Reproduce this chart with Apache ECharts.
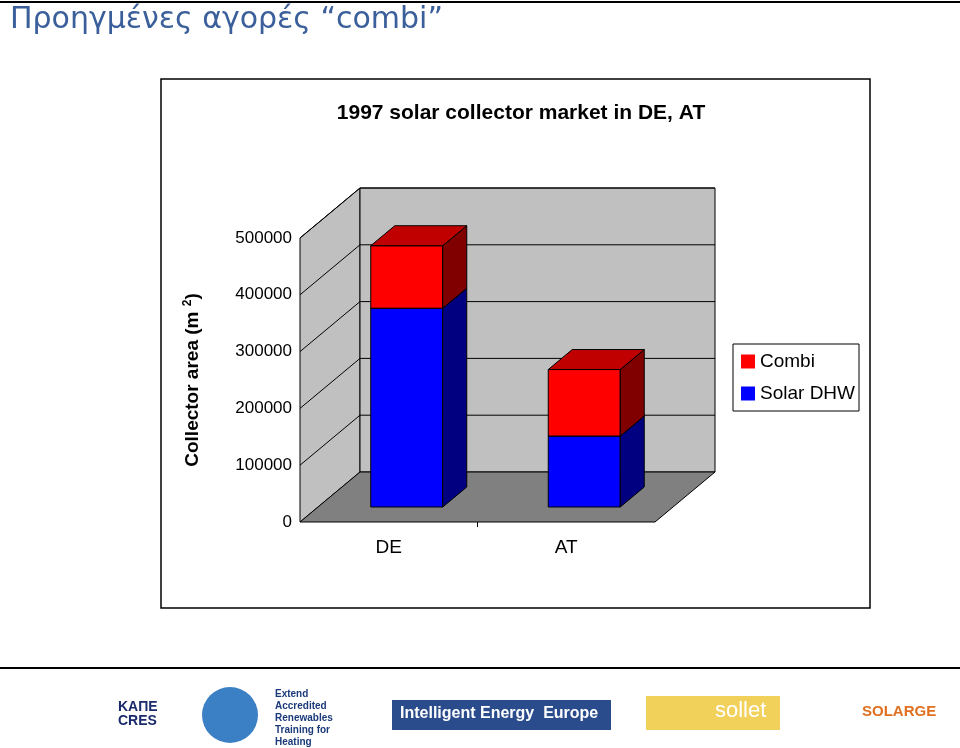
<!DOCTYPE html><html><head><meta charset="utf-8">
<script src="https://cdn.jsdelivr.net/npm/echarts@6/dist/echarts.min.js"></script>
<style>body{margin:0;background:#fff}#c{width:960px;height:748px}</style></head><body><div id="c"></div>
<script>
const categories=['DE','AT'];
const solarDHW=[350000,125000];
const combi=[110000,117000];
const yTicks=[0,100000,200000,300000,400000,500000];
const DX=60,DY=-50;
const chart=echarts.init(document.getElementById('c'));
function poly(pts,fill){return{type:'polygon',shape:{points:pts},style:{fill:fill,stroke:'#000',lineWidth:1}};}
function wall(params,api){
  const band=api.size([1,0])[0];
  const p0=api.coord([0,0]);const p1=api.coord([1,0]);
  const xl=p0[0]-band/2,xr=p1[0]+band/2,yb=p0[1];
  const yt=api.coord([0,500000])[1];
  const ch=[];
  ch.push(poly([[xl,yb],[xl+DX,yb+DY],[xl+DX,yt+DY],[xl,yt]],'#c0c0c0'));
  ch.push(poly([[xl+DX,yb+DY],[xr+DX,yb+DY],[xr+DX,yt+DY],[xl+DX,yt+DY]],'#c0c0c0'));
  ch.push(poly([[xl,yb],[xr,yb],[xr+DX,yb+DY],[xl+DX,yb+DY]],'#808080'));
  yTicks.slice(1).forEach(v=>{const y=api.coord([0,v])[1];
    ch.push({type:'polyline',shape:{points:[[xl,y],[xl+DX,y+DY],[xr+DX,y+DY]]},style:{stroke:'#000',lineWidth:1,fill:null}});});
  ch.push({type:'line',shape:{x1:p0[0]+band/2,y1:yb,x2:p0[0]+band/2,y2:yb+5},style:{stroke:'#000'}});
  return{type:'group',children:ch};
}
function box(colors,lowArr,highArr){
  return function(params,api){
    const i=params.dataIndex;
    const c=api.coord([i,0]);
    const f=0.3,w=72,bd=0.4;
    const ox=DX*f,oy=DY*f;
    const xa=c[0]-w/2+ox, xb=xa+w;
    const ylo=api.coord([i,lowArr[i]])[1]+oy, yhi=api.coord([i,highArr[i]])[1]+oy;
    const ddx=DX*bd,ddy=DY*bd;
    return{type:'group',children:[
      poly([[xa,ylo],[xb,ylo],[xb,yhi],[xa,yhi]],colors[0]),
      poly([[xb,ylo],[xb+ddx,ylo+ddy],[xb+ddx,yhi+ddy],[xb,yhi]],colors[2]),
      poly([[xa,yhi],[xb,yhi],[xb+ddx,yhi+ddy],[xa+ddx,yhi+ddy]],colors[1])
    ]};
  };
}
const zeros=solarDHW.map(()=>0);
const totals=solarDHW.map((v,i)=>v+combi[i]);
chart.setOption({
  animation:false,
  title:{text:'1997 solar collector market in DE, AT',left:516,top:98,textAlign:'center',textStyle:{fontFamily:'Liberation Sans',fontWeight:'bold',fontSize:21,color:'#000'}},
  graphic:[
    {type:'rect',shape:{x:161,y:79,width:709,height:529},style:{fill:'none',stroke:'#000',lineWidth:1.5}},
    {type:'line',shape:{x1:0,y1:2,x2:960,y2:2},style:{stroke:'#000',lineWidth:2}},
    {type:'text',left:10,top:5,style:{text:'Προηγμένες αγορές “combi”',font:'30px "DejaVu Sans"',fill:'#3a5f9a'}},
    {type:'line',shape:{x1:0,y1:668,x2:960,y2:668},style:{stroke:'#000',lineWidth:2}},
    {type:'text',left:118,top:700,style:{text:'ΚΑΠΕ\nCRES',font:'bold 14px "Liberation Sans"',fill:'#1a2a6a'}},
    {type:'circle',shape:{cx:230,cy:715,r:28},style:{fill:'#3b7fc4'}},
    {type:'text',left:275,top:688,style:{text:'Extend\nAccredited\nRenewables\nTraining for\nHeating',font:'bold 10px "Liberation Sans"',fill:'#1a3a7a',lineHeight:12}},
    {type:'rect',shape:{x:392,y:700,width:219,height:30},style:{fill:'#2b4c8c'}},
    {type:'text',left:400,top:706,style:{text:'Intelligent Energy  Europe',font:'bold 16px "Liberation Sans"',fill:'#fff'}},
    {type:'rect',shape:{x:646,y:696,width:134,height:34},style:{fill:'#f2d15a'}},
    {type:'text',left:715,top:700,style:{text:'sollet',font:'22px "Liberation Sans"',fill:'#fff'}},
    {type:'text',left:862,top:704,style:{text:'SOLARGE',font:'bold 15px "Liberation Sans"',fill:'#e07020'}}
  ],
  legend:{data:['Combi','Solar DHW'],orient:'vertical',left:733,top:344,itemWidth:14,itemHeight:14,itemGap:13,icon:'rect',
    borderColor:'#000',borderWidth:1,padding:[8,4,8,8],textStyle:{fontFamily:'Liberation Sans',fontSize:19,color:'#000'}},
  grid:{left:300,right:305,top:238,bottom:226},
  xAxis:{type:'category',data:categories,axisLine:{show:false},axisTick:{show:false},
    axisLabel:{fontFamily:'Liberation Sans',fontSize:19,color:'#000',margin:16}},
  yAxis:{type:'value',min:0,max:500000,interval:100000,splitLine:{show:false},axisLine:{show:false},
    axisLabel:{fontFamily:'Liberation Sans',fontSize:17,color:'#000',margin:8,formatter:v=>String(v)},
    name:'Collector area (m {s|2})',nameLocation:'middle',nameGap:96,
    nameTextStyle:{fontFamily:'Liberation Sans',fontWeight:'bold',fontSize:19,color:'#000',rich:{s:{fontSize:12,fontWeight:'bold',verticalAlign:'top',padding:[0,0,10,0]}}}},
  series:[
    {type:'custom',name:'wall',data:[[0,0]],renderItem:wall,silent:true,z:1},
    {type:'custom',name:'Solar DHW',data:solarDHW.map((v,i)=>[i,v]),itemStyle:{color:'#0000ff'},renderItem:box(['#0000ff','#0000c0','#000080'],zeros,solarDHW),z:2},
    {type:'custom',name:'Combi',data:combi.map((v,i)=>[i,totals[i]]),itemStyle:{color:'#ff0000'},renderItem:box(['#ff0000','#c00000','#800000'],solarDHW,totals),z:3}
  ]
});
</script></body></html>
